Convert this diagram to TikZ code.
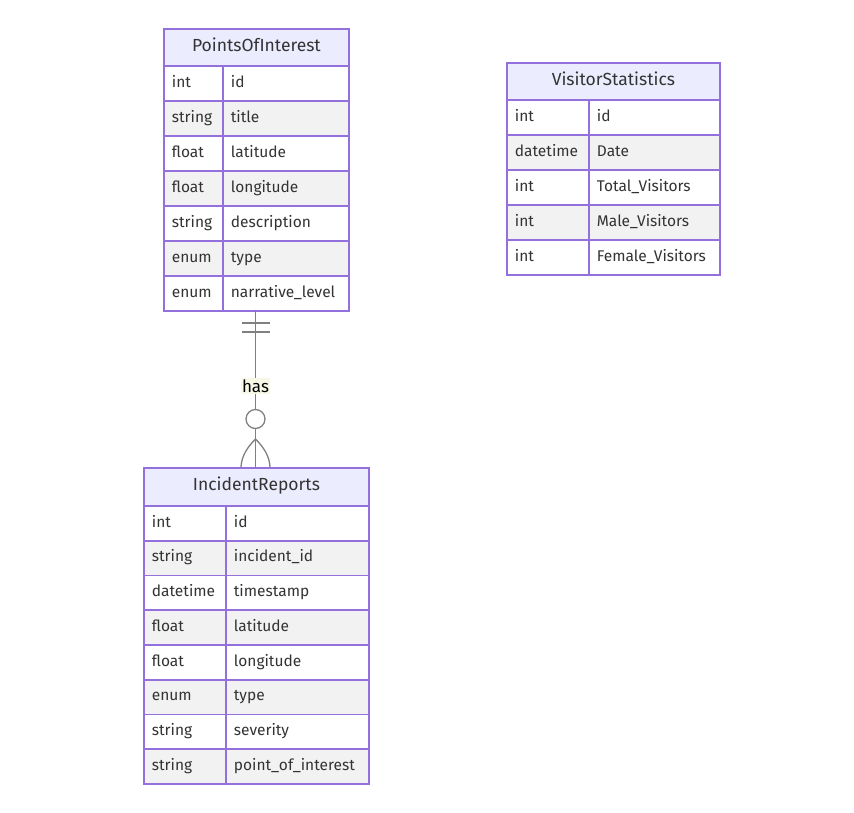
\documentclass[tikz,border=0pt]{standalone}
\usepackage{fontspec}
\setmainfont{Fira Sans}
\definecolor{bordr}{HTML}{9370DB}
\definecolor{hdrfill}{HTML}{ECECFF}
\definecolor{rowgray}{HTML}{F2F2F2}
\definecolor{txt}{HTML}{333333}
\definecolor{lnk}{HTML}{808080}
\definecolor{lblbg}{HTML}{F7F9E6}
\tikzset{
  hdr/.style={draw=bordr, fill=hdrfill, line width=1.8pt, anchor=north west, text=txt,
    font=\fontsize{17.5}{20}\selectfont, inner sep=0pt, text height=12pt, text depth=4pt},
  cell/.style={draw=bordr, line width=1.8pt, anchor=north west, text=txt,
    font=\fontsize{15.5}{18}\selectfont, align=left, inner xsep=8pt, inner ysep=0pt,
    text height=11pt, text depth=3.5pt},
  row1/.style={fill=white},
  row0/.style={fill=rowgray},
  rel/.style={draw=lnk, line width=1.3pt},
}
\begin{document}
\begin{tikzpicture}[x=1pt,y=-1pt]
\useasboundingbox (0,0) rectangle (854,812);
% PointsOfInterest
\node[hdr, minimum width=185pt, minimum height=37pt] (poi) at (163,28) {PointsOfInterest};
\foreach \t/\n [count=\i] in {int/id, string/title, float/latitude, float/longitude, string/description, enum/type, enum/narrative\_level}{
  \pgfmathtruncatemacro\rp{mod(\i,2)}
  \node[cell, row\rp, text width=43pt, minimum height=35pt] (poi-t\i) at (163,{65+35*(\i-1)}) {\t};
  \node[cell, row\rp, text width=110pt, minimum height=35pt] (poi-n\i) at (222,{65+35*(\i-1)}) {\n};
}
% VisitorStatistics
\node[hdr, minimum width=213pt, minimum height=37pt] (vs) at (506,62) {VisitorStatistics};
\foreach \t/\n [count=\i] in {int/id, datetime/Date, int/Total\_Visitors, int/Male\_Visitors, int/Female\_Visitors}{
  \pgfmathtruncatemacro\rp{mod(\i,2)}
  \node[cell, row\rp, text width=66pt, minimum height=35pt] (vs-t\i) at (506,{99+35*(\i-1)}) {\t};
  \node[cell, row\rp, text width=115pt, minimum height=35pt] (vs-n\i) at (588,{99+35*(\i-1)}) {\n};
}
% IncidentReports
\node[hdr, minimum width=225pt, minimum height=38pt] (ir) at (143,467) {IncidentReports};
\foreach \t/\n [count=\i] in {int/id, string/incident\_id, datetime/timestamp, float/latitude, float/longitude, enum/type, string/severity, string/point\_of\_interest}{
  \pgfmathtruncatemacro\rp{mod(\i,2)}
  \node[cell, row\rp, text width=66pt, minimum height=34.75pt] (ir-t\i) at (143,{505+34.75*(\i-1)}) {\t};
  \node[cell, row\rp, text width=127pt, minimum height=34.75pt] (ir-n\i) at (225,{505+34.75*(\i-1)}) {\n};
}
% relationship
\coordinate (poiB) at (255.5,310);
\coordinate (irT) at (255.5,467);
\draw[rel] (poiB) -- (irT);
\draw[rel] ([xshift=-14pt,yshift=-13pt]poiB) -- ([xshift=14pt,yshift=-13pt]poiB);
\draw[rel] ([xshift=-14pt,yshift=-22pt]poiB) -- ([xshift=14pt,yshift=-22pt]poiB);
\node[fill=lblbg, text=black, font=\fontsize{17}{20}\selectfont, inner sep=1.5pt] (lbl) at (255.5,386) {has};
\draw[rel, fill=white] ([yshift=48pt]irT) circle (9.5pt);
\coordinate (cf) at ([yshift=28pt]irT);
\draw[rel] (cf) .. controls ([xshift=-8pt,yshift=-8pt]cf) and ([xshift=-14pt,yshift=-17pt]cf) .. ([xshift=-14.5pt]irT);
\draw[rel] (cf) .. controls ([xshift=8pt,yshift=-8pt]cf) and ([xshift=14pt,yshift=-17pt]cf) .. ([xshift=14.5pt]irT);
\end{tikzpicture}
\end{document}
